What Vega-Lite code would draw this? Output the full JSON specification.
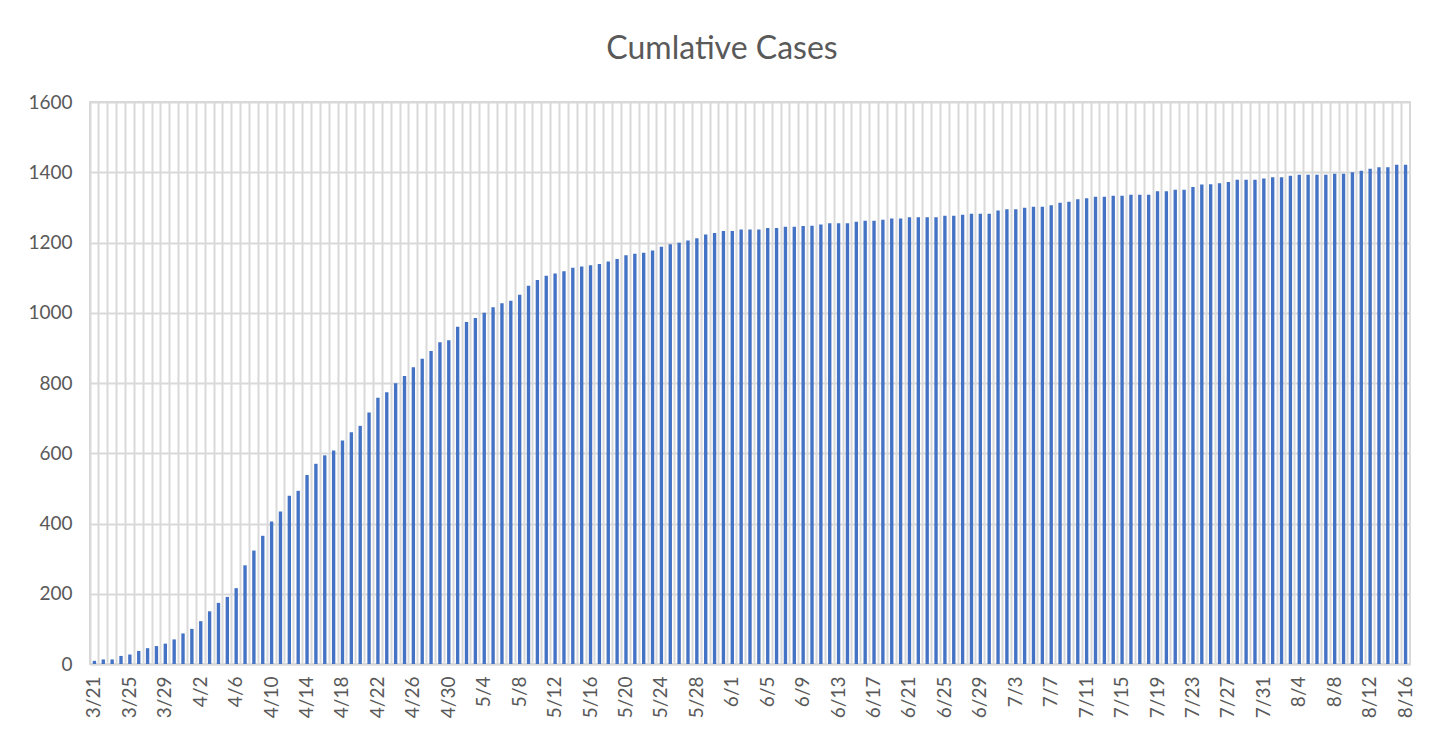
{
  "$schema": "https://vega.github.io/schema/vega-lite/v6.json",
  "width": 1320,
  "height": 562,
  "autosize": {"type": "none"},
  "padding": {"left": 90, "top": 102, "right": 44, "bottom": 72},
  "background": "#ffffff",
  "title": {"text": "Cumlative Cases", "font": "Lato", "fontSize": 32, "fontWeight": "normal", "color": "#595959", "anchor": "middle", "dx": -28, "offset": 2, "baseline": "alphabetic"},
  "data": {"values": [
    {"date": "3/21", "cases": 9}, {"date": "3/22", "cases": 13}, {"date": "3/23", "cases": 13}, {"date": "3/24", "cases": 23}, {"date": "3/25", "cases": 27}, {"date": "3/26", "cases": 37}, {"date": "3/27", "cases": 45}, {"date": "3/28", "cases": 51}, {"date": "3/29", "cases": 58}, {"date": "3/30", "cases": 70}, {"date": "3/31", "cases": 87},
    {"date": "4/1", "cases": 100}, {"date": "4/2", "cases": 122}, {"date": "4/3", "cases": 150}, {"date": "4/4", "cases": 174}, {"date": "4/5", "cases": 191}, {"date": "4/6", "cases": 216}, {"date": "4/7", "cases": 281}, {"date": "4/8", "cases": 323}, {"date": "4/9", "cases": 365}, {"date": "4/10", "cases": 406},
    {"date": "4/11", "cases": 434}, {"date": "4/12", "cases": 479}, {"date": "4/13", "cases": 493}, {"date": "4/14", "cases": 538}, {"date": "4/15", "cases": 570}, {"date": "4/16", "cases": 594}, {"date": "4/17", "cases": 608}, {"date": "4/18", "cases": 636}, {"date": "4/19", "cases": 660}, {"date": "4/20", "cases": 678},
    {"date": "4/21", "cases": 716}, {"date": "4/22", "cases": 758}, {"date": "4/23", "cases": 774}, {"date": "4/24", "cases": 799}, {"date": "4/25", "cases": 820}, {"date": "4/26", "cases": 845}, {"date": "4/27", "cases": 869}, {"date": "4/28", "cases": 891}, {"date": "4/29", "cases": 916}, {"date": "4/30", "cases": 922},
    {"date": "5/1", "cases": 960}, {"date": "5/2", "cases": 974}, {"date": "5/3", "cases": 985}, {"date": "5/4", "cases": 1000}, {"date": "5/5", "cases": 1016}, {"date": "5/6", "cases": 1027}, {"date": "5/7", "cases": 1034}, {"date": "5/8", "cases": 1051}, {"date": "5/9", "cases": 1077}, {"date": "5/10", "cases": 1093},
    {"date": "5/11", "cases": 1105}, {"date": "5/12", "cases": 1112}, {"date": "5/13", "cases": 1118}, {"date": "5/14", "cases": 1128}, {"date": "5/15", "cases": 1132}, {"date": "5/16", "cases": 1135}, {"date": "5/17", "cases": 1139}, {"date": "5/18", "cases": 1146}, {"date": "5/19", "cases": 1153}, {"date": "5/20", "cases": 1164},
    {"date": "5/21", "cases": 1168}, {"date": "5/22", "cases": 1171}, {"date": "5/23", "cases": 1177}, {"date": "5/24", "cases": 1188}, {"date": "5/25", "cases": 1195}, {"date": "5/26", "cases": 1199}, {"date": "5/27", "cases": 1206}, {"date": "5/28", "cases": 1212}, {"date": "5/29", "cases": 1223}, {"date": "5/30", "cases": 1227}, {"date": "5/31", "cases": 1233},
    {"date": "6/1", "cases": 1233}, {"date": "6/2", "cases": 1237}, {"date": "6/3", "cases": 1237}, {"date": "6/4", "cases": 1237}, {"date": "6/5", "cases": 1241}, {"date": "6/6", "cases": 1241}, {"date": "6/7", "cases": 1245}, {"date": "6/8", "cases": 1245}, {"date": "6/9", "cases": 1247}, {"date": "6/10", "cases": 1248},
    {"date": "6/11", "cases": 1251}, {"date": "6/12", "cases": 1255}, {"date": "6/13", "cases": 1255}, {"date": "6/14", "cases": 1255}, {"date": "6/15", "cases": 1259}, {"date": "6/16", "cases": 1262}, {"date": "6/17", "cases": 1262}, {"date": "6/18", "cases": 1265}, {"date": "6/19", "cases": 1268}, {"date": "6/20", "cases": 1268},
    {"date": "6/21", "cases": 1272}, {"date": "6/22", "cases": 1272}, {"date": "6/23", "cases": 1272}, {"date": "6/24", "cases": 1272}, {"date": "6/25", "cases": 1276}, {"date": "6/26", "cases": 1276}, {"date": "6/27", "cases": 1279}, {"date": "6/28", "cases": 1282}, {"date": "6/29", "cases": 1282}, {"date": "6/30", "cases": 1282},
    {"date": "7/1", "cases": 1291}, {"date": "7/2", "cases": 1295}, {"date": "7/3", "cases": 1295}, {"date": "7/4", "cases": 1299}, {"date": "7/5", "cases": 1302}, {"date": "7/6", "cases": 1302}, {"date": "7/7", "cases": 1306}, {"date": "7/8", "cases": 1313}, {"date": "7/9", "cases": 1316}, {"date": "7/10", "cases": 1323},
    {"date": "7/11", "cases": 1326}, {"date": "7/12", "cases": 1330}, {"date": "7/13", "cases": 1330}, {"date": "7/14", "cases": 1333}, {"date": "7/15", "cases": 1333}, {"date": "7/16", "cases": 1336}, {"date": "7/17", "cases": 1336}, {"date": "7/18", "cases": 1336}, {"date": "7/19", "cases": 1346}, {"date": "7/20", "cases": 1346},
    {"date": "7/21", "cases": 1350}, {"date": "7/22", "cases": 1350}, {"date": "7/23", "cases": 1358}, {"date": "7/24", "cases": 1365}, {"date": "7/25", "cases": 1366}, {"date": "7/26", "cases": 1369}, {"date": "7/27", "cases": 1372}, {"date": "7/28", "cases": 1379}, {"date": "7/29", "cases": 1379}, {"date": "7/30", "cases": 1379}, {"date": "7/31", "cases": 1382},
    {"date": "8/1", "cases": 1386}, {"date": "8/2", "cases": 1386}, {"date": "8/3", "cases": 1390}, {"date": "8/4", "cases": 1393}, {"date": "8/5", "cases": 1393}, {"date": "8/6", "cases": 1393}, {"date": "8/7", "cases": 1393}, {"date": "8/8", "cases": 1396}, {"date": "8/9", "cases": 1396}, {"date": "8/10", "cases": 1400},
    {"date": "8/11", "cases": 1404}, {"date": "8/12", "cases": 1410}, {"date": "8/13", "cases": 1414}, {"date": "8/14", "cases": 1414}, {"date": "8/15", "cases": 1421}, {"date": "8/16", "cases": 1421}
  ]},
  "mark": {"type": "bar", "color": "#4472C4", "width": {"band": 0.38}},
  "encoding": {
    "x": {
      "field": "date", "type": "ordinal", "sort": null,
      "scale": {"type": "band", "paddingInner": 0, "paddingOuter": 0},
      "axis": {
        "title": null,
        "grid": true, "gridColor": "#d9d9d9", "gridWidth": 2, "bandPosition": 0,
        "ticks": false, "domain": true, "domainColor": "#d9d9d9", "domainWidth": 2,
        "labelAngle": -90, "labelPadding": 12, "labelOverlap": false, "labelBound": false,
        "labelFont": "Lato", "labelFontSize": 19, "labelColor": "#595959",
        "labelExpr": "indexof(['3/21','3/25','3/29','4/2','4/6','4/10','4/14','4/18','4/22','4/26','4/30','5/4','5/8','5/12','5/16','5/20','5/24','5/28','6/1','6/5','6/9','6/13','6/17','6/21','6/25','6/29','7/3','7/7','7/11','7/15','7/19','7/23','7/27','7/31','8/4','8/8','8/12','8/16'], datum.value) >= 0 ? datum.value : ''"
      }
    },
    "y": {
      "field": "cases", "type": "quantitative",
      "scale": {"domain": [0, 1600], "nice": false},
      "axis": {
        "title": null, "values": [0, 200, 400, 600, 800, 1000, 1200, 1400, 1600], "format": "d",
        "grid": true, "gridColor": "#d9d9d9", "gridWidth": 2,
        "ticks": false, "domain": false,
        "labelPadding": 18, "labelFont": "Lato", "labelFontSize": 19, "labelColor": "#595959"
      }
    }
  },
  "config": {
    "view": {"stroke": "#d9d9d9", "strokeWidth": 2}
  }
}
